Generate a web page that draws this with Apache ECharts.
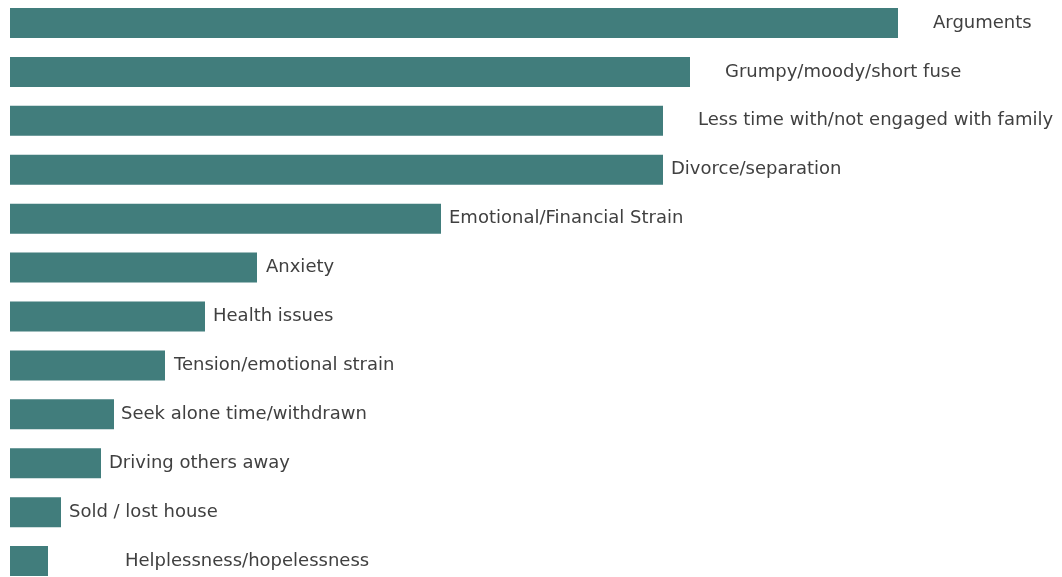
<!DOCTYPE html>
<html>
<head>
<meta charset="utf-8">
<script src="https://cdn.jsdelivr.net/npm/echarts@6/dist/echarts.min.js"></script>
<style>
  html, body { margin: 0; padding: 0; background: #fff; }
  #chart { width: 1062px; height: 577px; }
</style>
</head>
<body>
<div id="chart"></div>
<script>
// categories top to bottom
const categories = [
    'Arguments',
    'Grumpy/moody/short fuse',
    'Less time with/not engaged with family',
    'Divorce/separation',
    'Emotional/Financial Strain',
    'Anxiety',
    'Health issues',
    'Tension/emotional strain',
    'Seek alone time/withdrawn',
    'Driving others away',
    'Sold / lost house',
    'Helplessness/hopelessness'
];
const values = [88.8, 68.0, 65.3, 65.3, 43.1, 24.7, 19.5, 15.5, 10.4, 9.1, 5.1, 3.8];

// gap between bar end and its label (px), as laid out in the original
const labelGaps = [35, 35, 35, 8, 8, 9, 8, 9, 7, 8, 8, 77];

const chart = echarts.init(document.getElementById('chart'));

const option = {
    animation: false,
    grid: {
        left: 10,
        width: 1052,
        top: -1.5,
        height: 587,
        outerBoundsMode: 'none'
    },
    xAxis: {
        type: 'value',
        min: 0,
        max: 105.2,
        show: false
    },
    yAxis: {
        type: 'category',
        data: categories,
        inverse: true,
        show: false
    },
    series: [
        {
            type: 'bar',
            barWidth: 30,
            itemStyle: { color: '#417d7c' },
            label: {
                show: true,
                position: 'right',
                color: '#404040',
                fontFamily: 'DejaVu Sans',
                fontSize: 18,
                formatter: (p) => categories[p.dataIndex]
            },
            data: values.map((v, i) => ({
                value: v,
                label: { distance: labelGaps[i] }
            }))
        }
    ]
};

chart.setOption(option);
</script>
</body>
</html>
